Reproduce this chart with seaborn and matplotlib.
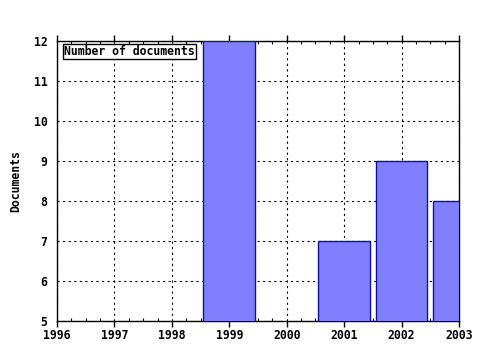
import matplotlib
matplotlib.use("Agg")
import matplotlib.pyplot as plt
import seaborn as sns
import pandas as pd
from matplotlib.ticker import MultipleLocator

years = [1999, 2001, 2002, 2003]
documents = [12, 7, 9, 8]
xticks = [1996, 1997, 1998, 1999, 2000, 2001, 2002, 2003]
yticks = [5, 6, 7, 8, 9, 10, 11, 12]

sns.set_theme(style="white")
plt.rcParams['font.family'] = ['DejaVu Sans Mono']
plt.rcParams['font.weight'] = 'bold'
plt.rcParams['text.color'] = 'black'
plt.rcParams['axes.labelcolor'] = 'black'
plt.rcParams['xtick.color'] = 'black'
plt.rcParams['ytick.color'] = 'black'

df = pd.DataFrame({"Year": years, "Documents": documents})

fig = plt.figure(figsize=(4.8, 3.5), dpi=100)
ax = fig.add_axes([57/480, 1-321/350, (459-57)/480, (321-41)/350])

sns.barplot(data=df, x="Year", y="Documents", native_scale=True, width=0.9,
            color="#8080ff", saturation=1, edgecolor="#1010a0", linewidth=1.0,
            ax=ax, label="Number of documents", zorder=3)

ax.set_xlim(1996, 2003)
ax.set_ylim(5, 12)
ax.set_xticks(xticks)
ax.set_xticklabels([str(t) for t in xticks], fontsize=8.3, fontweight='bold')
ax.set_yticks(yticks)
ax.set_yticklabels([str(t) for t in yticks], fontsize=8.3, fontweight='bold')
ax.xaxis.set_minor_locator(MultipleLocator(0.25))
ax.tick_params(axis='x', which='major', direction='out', length=4, width=1, color='black', bottom=True, top=True, pad=2)
ax.tick_params(axis='x', which='minor', direction='in', length=2, width=0.8, color='black', bottom=True, top=True)
ax.tick_params(axis='y', which='major', length=0, pad=7)
ax.grid(True, which='major', color='black', linestyle=(0, (2, 3)), linewidth=0.8, zorder=0)
ax.set_axisbelow(True)
for s in ax.spines.values():
    s.set_visible(True)
    s.set_color('black')
    s.set_linewidth(1.0)
ax.set_xlabel("")
ax.set_ylabel("Documents", fontsize=8.3, fontweight='bold', labelpad=8)

leg = ax.legend(loc='upper left', handlelength=0, handletextpad=0, fontsize=8.3,
                frameon=True, fancybox=False, borderpad=0.1, borderaxespad=0.25,
                bbox_to_anchor=(0.008, 1.0))
for h in leg.legend_handles:
    h.set_visible(False)
leg.get_frame().set_edgecolor('black')
leg.get_frame().set_linewidth(1.0)
leg.get_frame().set_alpha(1)
leg.set_zorder(5)

fig.savefig("out.png", dpi=100)
